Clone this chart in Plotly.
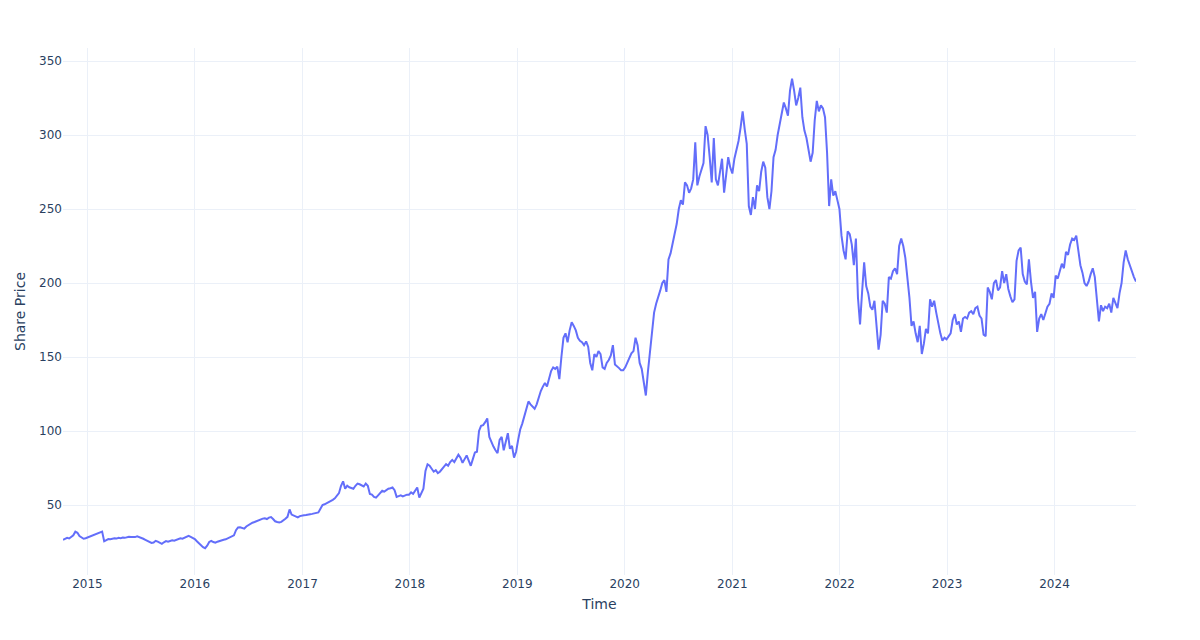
import pandas as pd
import plotly.graph_objects as go

# Weekly closing share price, starting Fri 2014-10-10
start_date = "2014-10-10"

prices_2014 = [26.5, 27.2, 27.8, 27.4, 28.3, 29.5, 32.0, 31.2, 29.0, 28.0, 27.2]
prices_2015 = [27.5, 28, 28.5, 29, 29.5, 30, 30.5, 31, 32, 25.5,
               26.3, 27, 26.8, 27.2, 27.5, 27.3, 27.8, 27.6, 28, 27.8,
               28.2, 28.6, 28.4, 28.2, 28.3, 28.8, 28.4, 27.8, 27.2, 26.5,
               25.8, 25, 24.4, 24.6, 25.8, 25.2, 24.5, 23.8, 24.8, 25.6,
               25.2, 25.8, 26.2, 25.9, 26.5, 27, 27.5, 27.2, 28, 28.4,
               29.2, 28.5]
prices_2016 = [28, 27, 25.5, 24, 22.5, 21.5, 20.8, 22.5, 25, 25.8,
               25, 24.5, 25.2, 25.8, 26.2, 26.5, 26.8, 27.5, 28, 28.8,
               29.5, 33, 34.8, 35, 34.5, 34, 35.5, 36.5, 37.2, 38,
               38.5, 39.2, 39.6, 40.2, 40.8, 41, 40.5, 41.5, 41.8, 40.5,
               39, 38.5, 38.2, 38.6, 39.5, 40.7, 42, 47, 43.5, 42.8,
               42, 41.6, 42.5]
prices_2017 = [42.5, 43, 43.2, 43.3, 43.8, 44, 44.4, 44.6, 45, 47.5,
               50, 50.5, 51.2, 51.8, 52.5, 53.5, 54.5, 56, 58, 63,
               66, 61, 63, 62, 61.5, 61, 63, 64.5, 64, 63.5,
               62.5, 64.5, 63, 57.5, 57, 55.5, 55, 56.5, 58, 59.6,
               59, 60.2, 61, 61.3, 61.8, 60, 55.5, 56, 56.5, 55.8,
               56.5, 57]
prices_2018 = [57, 58.5, 57.5, 60, 61.8, 55, 58, 61, 73, 77.5,
               76.5, 74.5, 72.5, 73.5, 71.5, 72.5, 74.5, 76, 77.6, 76.5,
               79, 80.5, 79, 81.5, 84, 82, 78.5, 81, 83.5, 80,
               76.5, 81, 85.5, 86, 100, 103.5, 104, 106, 108.5, 96,
               92, 89.5, 87, 85, 94, 96, 87, 93, 98.5, 88,
               90, 82]
prices_2019 = [86, 94, 101, 105, 110, 114, 120, 118, 116.5, 115,
               118, 123, 127, 130, 132.5, 130, 135, 140.5, 143, 142,
               143.5, 135, 150, 163, 166, 160, 168, 173.5, 171, 168,
               163, 161, 160, 158, 160.5, 157, 146, 141, 152, 150,
               154, 152, 143, 142, 146, 148, 151, 158, 145, 144,
               142.5, 141]
prices_2020 = [141, 143, 146, 149, 152.5, 154, 163, 158, 146, 142,
               132, 124, 140, 155, 165, 180, 186, 190, 195, 200,
               202, 194, 216, 220, 227, 233, 240, 250, 256, 253,
               268, 266, 261, 264, 270, 295, 266, 272, 276, 281,
               306, 300, 285, 268, 298, 270, 266, 277, 284, 261,
               273, 285]
prices_2021 = [278, 274, 284, 290, 296, 305, 316, 304, 294, 252,
               246, 258, 250, 266, 262, 275, 282, 278, 258, 250,
               262, 285, 290, 300, 308, 314, 322, 318, 313, 330,
               338, 330, 320, 325, 332, 312, 303, 298, 290, 282,
               288, 310, 323, 316, 320, 318, 312, 288, 252, 270,
               259, 262, 256]
prices_2022 = [250, 232, 222, 216, 235, 233, 226, 212, 230, 190,
               172, 194, 214, 198, 193, 184, 182, 188, 171, 155,
               165, 188, 186, 180, 204, 203, 208, 210, 206, 225,
               230, 225, 217, 205, 190, 171, 174, 166, 160, 171,
               152, 159, 169, 166, 189, 184, 188, 180, 172, 166,
               161, 163]
prices_2023 = [162, 164, 166, 175, 179, 172, 174, 167, 176, 177,
               176, 180, 181, 179, 183, 184, 178, 176, 165, 164,
               197, 194, 189, 200, 202, 195, 197, 208, 200, 206,
               196, 191, 187, 189, 215, 222, 224, 206, 201, 199,
               216, 201, 190, 194, 167, 176, 179, 175, 180, 184,
               186, 193]
prices_2024 = [190, 205, 203, 208, 213, 210, 221, 219, 226, 230,
               229, 232, 222, 212, 207, 200, 198, 201, 206, 210,
               204, 189, 174, 185, 181, 184, 183, 186, 180, 190,
               186, 183, 193, 200, 214, 222, 216, 212, 207, 204,
               201]

prices = (prices_2014 + prices_2015 + prices_2016 + prices_2017 + prices_2018
          + prices_2019 + prices_2020 + prices_2021 + prices_2022
          + prices_2023 + prices_2024)
dates = pd.date_range(start=start_date, periods=len(prices), freq="7D")

fig = go.Figure()
fig.add_trace(go.Scatter(x=dates, y=prices, mode="lines",
                         line=dict(color="#636efa", width=2),
                         name="Share Price"))

fig.update_layout(
    template="plotly_white",
    margin=dict(l=63, r=64, t=48, b=65),
    showlegend=False,
    font=dict(family="DejaVu Sans, Verdana, sans-serif", color="#2a3f5f"),
    xaxis=dict(title=dict(text="Time", standoff=9), range=[dates[0], dates[-1]]),
    yaxis=dict(title=dict(text="Share Price", standoff=10), range=[2.7, 358.8]),
)

fig.write_html("out.html")
